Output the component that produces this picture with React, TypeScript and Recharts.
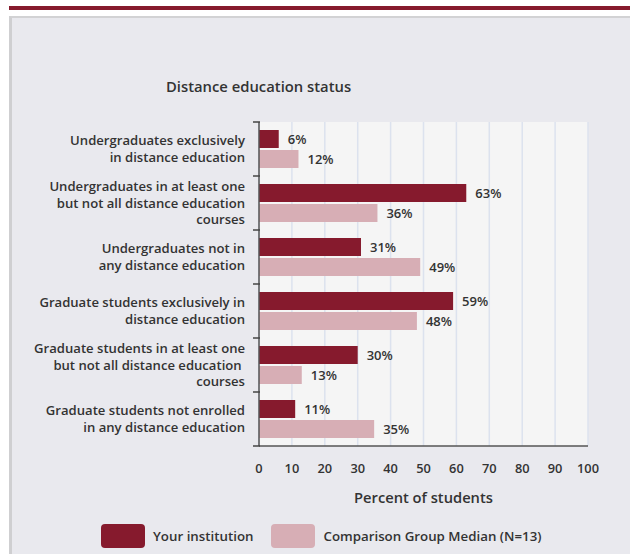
import React from "react";
import { BarChart, Bar, XAxis, YAxis, CartesianGrid, LabelList } from "recharts";

const categories = [
  ["Undergraduates exclusively", "in distance education"],
  ["Undergraduates in at least one", "but not all distance education", "courses"],
  ["Undergraduates not in", "any distance education"],
  ["Graduate students exclusively in", "distance education"],
  ["Graduate students in at least one", "but not all distance education ", "courses"],
  ["Graduate students not enrolled", "in any distance education"],
];
const yourInstitution = [6, 63, 31, 59, 30, 11];
const comparisonMedian = [12, 36, 49, 48, 13, 35];
const xTicks = [0, 10, 20, 30, 40, 50, 60, 70, 80, 90, 100];

const seriesNames = ["Your institution", "Comparison Group Median (N=13)"];
const DARK = "#861a2d";
const LIGHT = "#d7aeb5";
const FONT = "'Open Sans', sans-serif";

const data = categories.map((lines, i) => ({
  name: lines.join("|"),
  yours: yourInstitution[i],
  median: comparisonMedian[i],
}));

const HALF_BAND = 27;

function CategoryTick(props: any) {
  const { x, y, payload, index } = props;
  const lines: string[] = String(payload.value).split("|");
  const lh = 16.5;
  const start = y - ((lines.length - 1) * lh) / 2;
  return (
    <g>
      <line x1={x + 2} x2={x + 9} y1={y - HALF_BAND} y2={y - HALF_BAND} stroke="#444" strokeWidth={1.5} />
      {index === categories.length - 1 && (
        <line x1={x + 2} x2={x + 9} y1={y + HALF_BAND} y2={y + HALF_BAND} stroke="#444" strokeWidth={1.5} />
      )}
      <text
        x={x - 6}
        y={start}
        textAnchor="end"
        fontFamily={FONT}
        fontSize={13.1}
        fontWeight={600}
        fill="#333"
      >
        {lines.map((l, i) => (
          <tspan key={i} x={x - 6} y={start + i * lh} dy="0.35em">
            {l}
          </tspan>
        ))}
      </text>
    </g>
  );
}

export default function App() {
  return (
    <div style={{ position: "absolute", left: 0, top: 0, width: 630, height: 554, background: "#fff", overflow: "hidden" }}>
      <div style={{ position: "absolute", left: 9, top: 6, right: 0, height: 4, background: DARK }} />
      <div
        style={{
          position: "absolute",
          left: 9,
          top: 16,
          right: 0,
          bottom: 0,
          background: "#e9e9ee",
          borderTop: "2px solid #d2d2d4",
          borderLeft: "3px solid #cfcfd1",
        }}
      />
      <div
        style={{
          position: "absolute",
          left: 166,
          top: 76,
          fontFamily: FONT,
          fontSize: 14.8,
          fontWeight: 600,
          color: "#333",
          whiteSpace: "nowrap",
        }}
      >
        Distance education status
      </div>
      <div style={{ position: "absolute", left: 0, top: 0 }}>
        <BarChart
          width={630}
          height={554}
          data={data}
          layout="vertical"
          margin={{ top: 122, right: 42, bottom: 48, left: 9 }}
          barSize={18}
          barGap={2}
        >
          <CartesianGrid horizontal={false} stroke="#dce2ee" strokeWidth={1.5} fill="#f5f5f5" />
          <XAxis
            type="number"
            domain={[0, 100]}
            ticks={xTicks}
            interval={0}
            tickLine={false}
            axisLine={{ stroke: "#555", strokeWidth: 1.5 }}
            tickMargin={12}
            tick={{ fontFamily: FONT, fontSize: 12.8, fontWeight: 600, fill: "#333" }}
            label={{
              value: "Percent of students",
              position: "insideBottom",
              offset: 3,
              style: { fontFamily: FONT, fontSize: 14.7, fontWeight: 600, fill: "#333" },
            }}
            height={60}
          />
          <XAxis
            xAxisId="top"
            orientation="top"
            type="number"
            domain={[0, 100]}
            tick={false}
            tickLine={false}
            axisLine={{ stroke: "#cdd0d5", strokeWidth: 2 }}
            height={0}
          />
          <YAxis
            type="category"
            dataKey="name"
            width={250}
            tickLine={false}
            axisLine={{ stroke: "#555", strokeWidth: 1.5 }}
            tick={<CategoryTick />}
            interval={0}
          />
          <YAxis
            yAxisId="right"
            orientation="right"
            type="category"
            dataKey="name"
            tick={false}
            tickLine={false}
            axisLine={{ stroke: "#cdd0d5", strokeWidth: 2 }}
            width={0}
          />
          <Bar dataKey="yours" name={seriesNames[0]} fill={DARK} isAnimationActive={false}>
            <LabelList
              dataKey="yours"
              position="right"
              offset={9}
              formatter={(v: any) => `${v}%`}
              style={{ fontFamily: FONT, fontSize: 13, fontWeight: 600, fill: "#333" }}
            />
          </Bar>
          <Bar dataKey="median" name={seriesNames[1]} fill={LIGHT} isAnimationActive={false}>
            <LabelList
              dataKey="median"
              position="right"
              offset={9}
              formatter={(v: any) => `${v}%`}
              style={{ fontFamily: FONT, fontSize: 13, fontWeight: 600, fill: "#333" }}
            />
          </Bar>
        </BarChart>
      </div>
      <div
        style={{
          position: "absolute",
          left: 101,
          top: 524,
          display: "flex",
          fontFamily: FONT,
          fontSize: 13.3,
          fontWeight: 600,
          color: "#333",
        }}
      >
        {seriesNames.map((n, i) => (
          <div key={n} style={{ display: "flex", alignItems: "center", marginRight: i === 0 ? 18 : 0 }}>
            <div
              style={{
                width: 44,
                height: 24,
                borderRadius: 4,
                background: i === 0 ? DARK : LIGHT,
                marginRight: 8,
              }}
            />
            <span>{n}</span>
          </div>
        ))}
      </div>
    </div>
  );
}
